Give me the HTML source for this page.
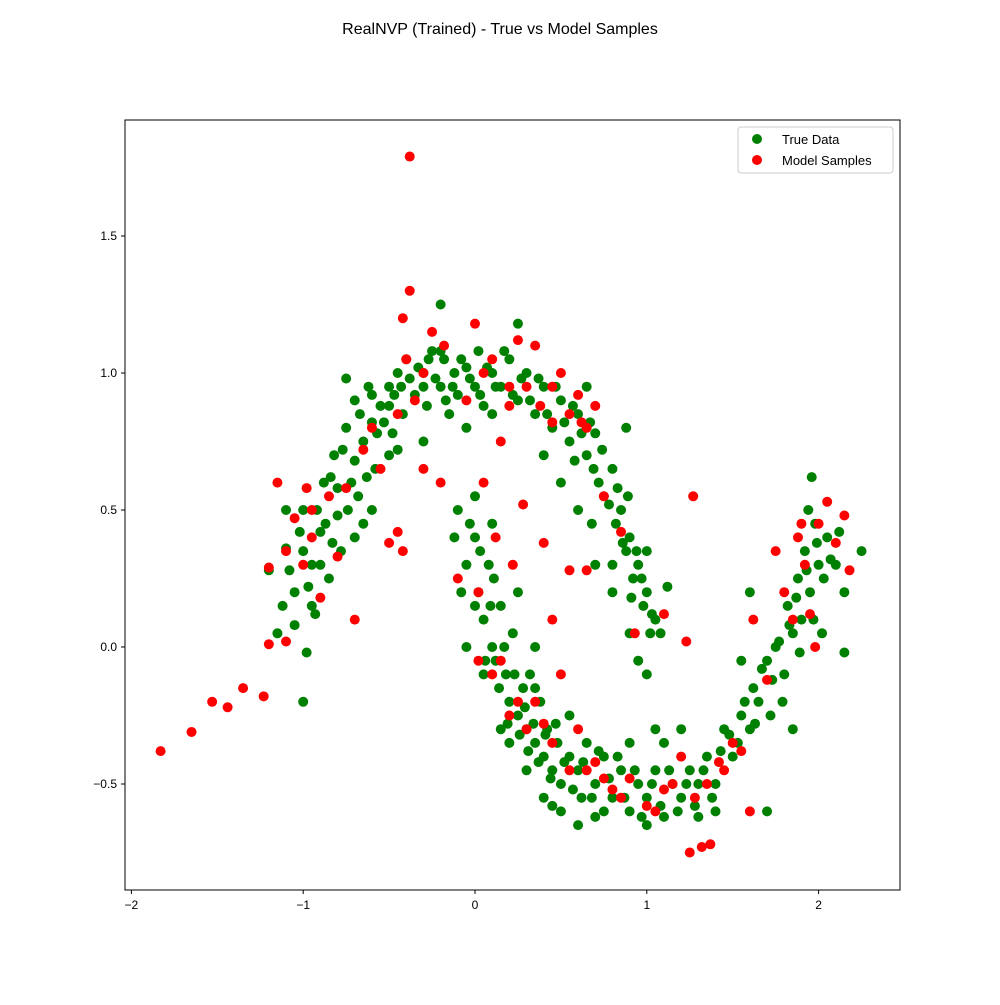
<!DOCTYPE html>
<html><head><meta charset="utf-8"><style>
body{margin:0;background:#fff;font-family:"Liberation Sans",sans-serif;}
svg text{font-family:"Liberation Sans",sans-serif;}
</style></head><body>
<svg id="chart" width="1000" height="1000">
<text x="500" y="34" text-anchor="middle" font-size="16">RealNVP (Trained) - True vs Model Samples</text>
<g id="plot"></g>
<g id="axes"></g>
<g>
<rect x="738" y="127" width="155" height="46" fill="#fff" stroke="#ccc" rx="3"/>
<circle cx="757" cy="139" r="5" fill="green"/>
<text x="782" y="144" font-size="13">True Data</text>
<circle cx="757" cy="160" r="5" fill="red"/>
<text x="782" y="165" font-size="13">Model Samples</text>
</g>
</svg>
<script>
const trueX=[-1.2,-1.15,-1.1,-1.05,-1.0,-0.98,-0.95,-0.93,-0.9,-0.88,-0.85,-0.82,-0.8,-0.78,-0.75,-0.72,-0.7,-0.68,-0.65,-0.62,-0.6,-0.58,-0.55,-0.5,-0.48,-0.45,-0.42,-0.4,-0.35,-0.3,-0.28,-0.25,-0.2,-0.18,-0.15,-0.12,-0.1,-0.05,0,0.02,0.05,0.1,0.15,0.2,0.25,0.3,0.35,0.4,0.45,0.5,0.55,0.6,0.65,0.7,0.72,0.75,0.8,0.82,0.85,0.88,0.9,0.92,0.95,0.98,1.0,1.02,1.05,-1.1,-0.95,-1.0,-0.6,-0.7,-0.5,-0.3,0.5,0.6,0.7,0.8,0.9,0.95,1.0,-0.05,0.1,0.65,-0.75,-1.0,-0.2,0.25,
-0.1,-0.05,0,0.02,0.05,0.08,0.1,0.12,0.15,0.18,0.2,0.22,0.25,0.28,0.3,0.32,0.35,0.38,0.4,0.42,0.45,0.48,0.5,0.55,0.6,0.62,0.65,0.7,0.75,0.8,0.85,0.9,0.95,1.0,1.05,1.1,1.15,1.2,1.25,1.3,1.35,1.4,1.45,1.5,1.55,1.6,1.62,1.65,1.7,1.72,1.75,1.8,1.82,1.85,1.88,1.9,1.92,1.95,1.98,2.0,2.02,2.05,2.1,2.15,2.25,1.96,0.05,0.15,0.3,0.45,0.6,0.9,1.2,1.4,1.7,1.85,2.15,0.0,0.1,0.55,1.0,1.1,0.75,1.6,0.25,-0.05,0.35,
-1.12,-1.08,-1.02,-0.97,-0.92,-0.9,-0.87,-0.84,-0.8,-0.77,-0.74,-0.7,-0.67,-0.63,-0.6,-0.57,-0.53,-0.5,-0.47,-0.43,-0.38,-0.33,-0.3,-0.27,-0.23,-0.2,-0.17,-0.13,-0.08,-0.03,0.03,0.07,0.12,0.17,0.22,0.27,0.32,0.37,0.42,0.47,0.52,0.57,0.62,0.67,0.69,0.74,0.78,0.83,0.86,0.89,0.91,0.94,0.97,1.0,1.03,1.08,-1.05,-0.83,-0.65,-0.45,0.4,0.58,0.68,0.8,1.12,0.88,
-0.12,-0.08,-0.03,0.0,0.03,0.06,0.09,0.11,0.14,0.17,0.19,0.23,0.26,0.29,0.31,0.34,0.37,0.41,0.44,0.47,0.52,0.57,0.63,0.68,0.72,0.78,0.83,0.87,0.93,0.97,1.03,1.08,1.13,1.18,1.23,1.28,1.33,1.38,1.43,1.48,1.53,1.57,1.63,1.67,1.73,1.77,1.79,1.83,1.87,1.89,1.93,1.97,1.99,2.03,2.07,2.12,1.94,0.2,0.35,0.5,0.7,1.05,1.3,1.55,0.4];
const trueY=[0.28,0.05,0.36,0.2,0.5,-0.02,0.3,0.12,0.42,0.6,0.25,0.7,0.48,0.35,0.8,0.6,0.9,0.55,0.75,0.95,0.82,0.65,0.88,0.95,0.78,1.0,0.85,1.05,0.92,1.0,0.88,1.08,0.95,1.05,0.85,1.0,0.92,1.02,0.95,1.08,0.88,1.0,0.95,1.05,0.9,1.0,0.85,0.95,0.8,0.9,0.75,0.85,0.7,0.78,0.6,0.55,0.65,0.45,0.5,0.35,0.4,0.25,0.3,0.15,0.2,0.05,0.1,0.5,0.15,0.35,0.5,0.4,0.7,0.75,0.6,0.5,0.3,0.2,0.05,-0.05,-0.1,0.8,0.85,0.95,0.98,-0.2,1.25,1.18,
0.5,0.3,0.4,0.2,0.1,0.3,0.0,-0.05,0.15,-0.1,-0.2,0.05,-0.25,-0.15,-0.3,-0.1,-0.35,-0.2,-0.4,-0.3,-0.45,-0.35,-0.5,-0.4,-0.45,-0.55,-0.35,-0.5,-0.4,-0.55,-0.45,-0.6,-0.5,-0.55,-0.45,-0.62,-0.5,-0.55,-0.45,-0.5,-0.4,-0.5,-0.3,-0.4,-0.25,-0.3,-0.15,-0.2,-0.05,-0.25,0.0,-0.1,0.15,0.05,0.25,0.1,0.35,0.2,0.45,0.3,0.05,0.4,0.3,0.2,0.35,0.62,-0.1,-0.3,-0.45,-0.58,-0.65,-0.35,-0.3,-0.6,-0.6,-0.3,-0.02,0.55,0.45,-0.25,-0.65,-0.35,-0.6,0.2,0.2,0.0,0.0,
0.15,0.28,0.42,0.22,0.5,0.3,0.45,0.62,0.58,0.72,0.5,0.68,0.85,0.62,0.92,0.78,0.82,0.88,0.92,0.95,0.98,1.02,0.95,1.05,0.98,1.08,0.9,0.95,1.05,0.98,0.92,1.02,0.95,1.08,0.92,0.98,0.9,0.98,0.85,0.95,0.82,0.88,0.78,0.82,0.65,0.72,0.52,0.58,0.38,0.55,0.18,0.35,0.25,0.35,0.12,0.05,0.08,0.38,0.45,0.72,0.7,0.68,0.45,0.3,0.22,0.8,
0.4,0.2,0.45,0.15,0.35,-0.05,0.15,0.25,-0.15,0.0,-0.28,-0.1,-0.32,-0.22,-0.38,-0.28,-0.42,-0.32,-0.48,-0.28,-0.42,-0.52,-0.42,-0.55,-0.38,-0.48,-0.4,-0.55,-0.45,-0.62,-0.5,-0.58,-0.45,-0.6,-0.5,-0.58,-0.45,-0.55,-0.38,-0.32,-0.35,-0.2,-0.28,-0.08,-0.12,0.02,-0.2,0.08,0.18,-0.02,0.28,0.1,0.38,0.25,0.32,0.42,0.5,-0.35,-0.15,-0.6,-0.62,-0.3,-0.62,-0.05,-0.55];
const modelX=[-1.83,-1.65,-1.53,-1.44,-1.35,-1.23,-1.2,-1.15,-1.2,-1.1,-1.05,-1.0,-0.98,-0.95,-0.9,-0.85,-0.8,-0.75,-0.7,-0.65,-0.55,-0.5,-0.45,-0.42,-0.45,-0.4,-0.38,-0.42,-0.38,-0.35,-0.3,-0.25,-0.2,-0.18,-0.1,-0.05,0.0,0.02,0.05,0.1,0.12,0.15,0.2,0.22,0.25,0.28,0.3,0.35,0.38,0.4,0.45,0.5,0.55,0.6,0.65,0.7,0.75,0.85,0.93,0.65,0.55,1.1,1.23,1.27,0.15,0.2,0.3,0.35,0.45,0.5,0.55,0.6,0.7,0.8,0.9,1.0,1.05,1.1,1.2,1.25,1.32,1.37,1.35,1.42,1.5,1.6,1.62,1.7,1.75,1.8,1.85,1.9,1.92,2.0,2.05,2.1,2.15,2.18,1.98,0.02,0.45,
-1.1,-0.95,-0.6,-0.3,0.05,0.2,0.45,0.62,0.25,0.4,0.65,0.85,1.15,1.45,1.55,1.88,1.95,0.1,0.75,1.28];
const modelY=[-0.38,-0.31,-0.2,-0.22,-0.15,-0.18,0.01,0.6,0.29,0.02,0.47,0.3,0.58,0.4,0.18,0.55,0.33,0.58,0.1,0.72,0.65,0.38,0.42,0.35,0.85,1.05,1.3,1.2,1.79,0.9,0.65,1.15,0.6,1.1,0.25,0.9,1.18,0.2,0.6,1.05,0.4,0.75,0.95,0.3,1.12,0.52,0.95,1.1,0.88,0.38,0.82,1.0,0.85,0.92,0.8,0.88,0.55,0.42,0.05,0.28,0.28,0.12,0.02,0.55,-0.05,-0.25,-0.3,-0.2,-0.35,-0.1,-0.45,-0.3,-0.42,-0.52,-0.48,-0.58,-0.6,-0.52,-0.4,-0.75,-0.73,-0.72,-0.5,-0.42,-0.35,-0.6,0.1,-0.12,0.35,0.2,0.1,0.45,0.3,0.45,0.53,0.38,0.48,0.28,0.0,-0.05,0.1,
0.35,0.5,0.8,1.0,1.0,0.88,0.95,0.82,-0.2,-0.28,-0.45,-0.55,-0.5,-0.45,-0.38,0.4,0.12,-0.1,-0.48,-0.55];
const xTicks=[-2,-1,0,1,2];
const yTicks=[-0.5,0.0,0.5,1.0,1.5];
const xTickLabels=["−2","−1","0","1","2"];
const yTickLabels=["−0.5","0.0","0.5","1.0","1.5"];

const L=125,R=900,T=120,B=890;
const sx=v=>475+v*171.8;
const sy=v=>647-v*274;
const NS='http://www.w3.org/2000/svg';
const plot=document.getElementById('plot'), axes=document.getElementById('axes');
function mk(tag,attrs,parent){const e=document.createElementNS(NS,tag);for(const k in attrs)e.setAttribute(k,attrs[k]);parent.appendChild(e);return e;}
trueX.forEach((x,i)=>{const c=mk('circle',{cx:sx(x),cy:sy(trueY[i]),r:5,fill:'green'},plot);

});
modelX.forEach((x,i)=>{const c=mk('circle',{cx:sx(x),cy:sy(modelY[i]),r:5,fill:'red'},plot);

});
const fr=mk('rect',{x:L,y:T,width:R-L,height:B-T,fill:'none',stroke:'#000','stroke-width':1},axes);


xTicks.forEach((v,i)=>{const x=sx(v);
const t=mk('line',{x1:x,x2:x,y1:B,y2:B+4,stroke:'#000'},axes);


const lb=mk('text',{x:x,y:B+19,'text-anchor':'middle','font-size':12},axes);lb.textContent=xTickLabels[i];

});
yTicks.forEach((v,i)=>{const y=sy(v);
const t=mk('line',{x1:L-4,x2:L,y1:y,y2:y,stroke:'#000'},axes);


const lb=mk('text',{x:L-8,y:y+4,'text-anchor':'end','font-size':12},axes);lb.textContent=yTickLabels[i];

});
</script>
</body></html>
